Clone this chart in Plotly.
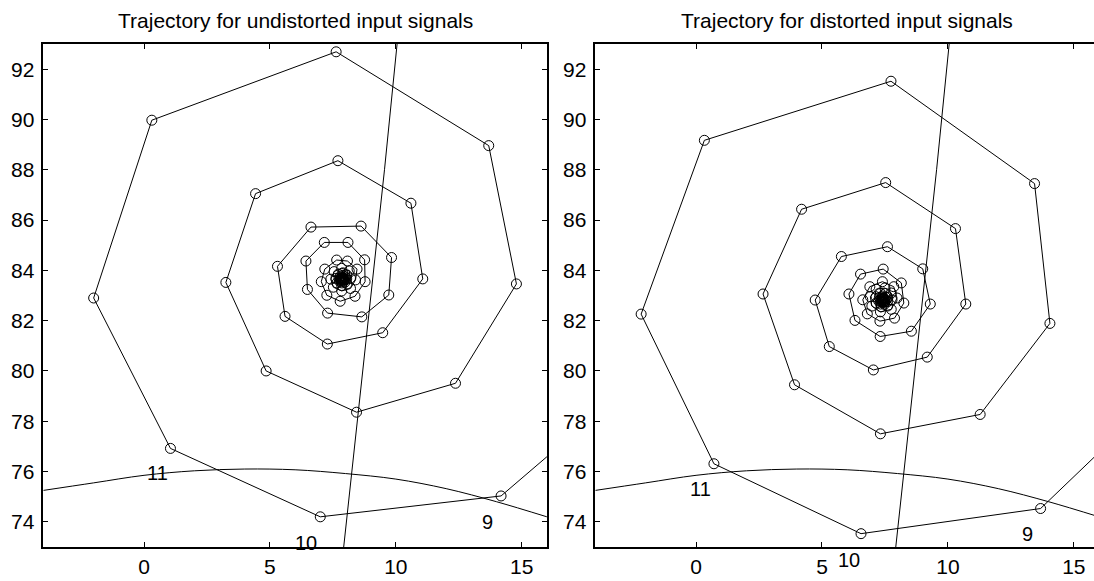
import plotly.graph_objects as go

# ---- trajectory, undistorted input signals ----
traj_u_x = [17.6, 14.18, 7.0, 1.05, -2.0, 0.31, 7.63, 13.69, 14.79, 12.37, 8.44, 4.85, 3.25,
            4.43, 7.70, 10.60, 11.07, 9.48, 7.28, 5.60, 5.30, 6.63, 8.62, 9.83, 9.72, 8.65,
            7.29, 6.49, 6.43, 7.16, 8.10, 8.76, 8.78, 8.38, 7.79, 7.26, 7.04, 7.18, 7.65,
            8.08, 8.46, 8.40, 8.20, 7.85, 7.52, 7.42, 7.55, 7.85, 8.15, 8.20, 8.06, 7.85,
            7.66, 7.62, 7.72, 7.90, 8.05, 8.05, 7.98, 7.86, 7.76, 7.74, 7.80, 7.90, 7.98,
            7.98, 7.93, 7.86, 7.81, 7.80, 7.84, 7.89, 7.93, 7.92, 7.88, 7.85, 7.86, 7.89]
traj_u_y = [77.96, 75.03, 74.2, 76.92, 82.9, 89.97, 92.69, 88.96, 83.46, 79.51, 78.36, 80.0, 83.52,
            87.05, 88.36, 86.67, 83.66, 81.52, 81.07, 82.17, 84.16, 85.72, 85.76, 84.51, 83.02, 82.15,
            82.30, 83.24, 84.37, 85.11, 85.11, 84.42, 83.55, 82.97, 82.77, 83.01, 83.55, 84.05, 84.41,
            84.37, 84.05, 83.62, 83.28, 83.18, 83.33, 83.65, 83.95, 84.08, 83.98, 83.70, 83.46, 83.40,
            83.50, 83.68, 83.85, 83.90, 83.82, 83.66, 83.53, 83.50, 83.57, 83.68, 83.77, 83.80, 83.74,
            83.65, 83.58, 83.57, 83.61, 83.67, 83.71, 83.72, 83.69, 83.64, 83.62, 83.64, 83.67, 83.67]

# ---- trajectory, distorted input signals ----
traj_d_x = [17.4, 13.68, 6.55, 0.71, -2.18, 0.33, 7.74, 13.44, 14.05, 11.28, 7.32, 3.91, 2.66,
            4.19, 7.53, 10.30, 10.71, 9.18, 7.04, 5.29, 4.73, 5.77, 7.60, 9.00, 9.30, 8.55,
            7.31, 6.31, 6.07, 6.53, 7.43, 8.15, 8.25, 7.88, 7.30, 6.80, 6.62, 6.90, 7.40,
            7.85, 7.98, 7.75, 7.32, 6.98, 6.92, 7.15, 7.50, 7.75, 7.78, 7.60, 7.35, 7.15,
            7.15, 7.32, 7.52, 7.62, 7.60, 7.48, 7.33, 7.25, 7.28, 7.40, 7.52, 7.54, 7.50,
            7.41, 7.34, 7.34, 7.40, 7.47, 7.49, 7.45, 7.40, 7.38, 7.41, 7.44]
traj_d_y = [78.1, 74.53, 73.53, 76.31, 82.26, 89.17, 91.52, 87.45, 81.89, 78.27, 77.50, 79.45, 83.06,
            86.43, 87.49, 85.66, 82.66, 80.55, 80.04, 80.97, 82.82, 84.55, 84.94, 84.06, 82.66, 81.58,
            81.37, 82.01, 83.06, 83.85, 84.05, 83.50, 82.70, 82.10, 81.98, 82.27, 82.83, 83.35, 83.55,
            83.35, 82.90, 82.45, 82.35, 82.58, 82.95, 83.25, 83.30, 83.10, 82.82, 82.58, 82.55, 82.70,
            82.95, 83.10, 83.08, 82.92, 82.75, 82.65, 82.66, 82.78, 82.92, 82.98, 82.93, 82.82, 82.74,
            82.72, 82.76, 82.84, 82.89, 82.87, 82.81, 82.77, 82.78, 82.82, 82.85, 82.83]

# ---- contour lines of the cost surface (same in both panels) ----
level10_x = [7.93, 8.47, 9.03, 9.55, 10.05]
level10_y = [73.0, 78.0, 83.0, 88.0, 93.0]
level11_x = [-4, -2, 0, 2, 4, 6, 8, 10, 12, 14, 16]
level11_y = [75.25, 75.55, 75.85, 76.03, 76.10, 76.07, 75.92, 75.70, 75.32, 74.80, 74.20]

# contour level labels: (text, x, y) per panel
labels_u = [("11", 0.52, 75.93), ("10", 6.44, 73.14), ("9", 13.65, 74.0)]
labels_d = [("11", 0.18, 75.29), ("10", 6.06, 72.48), ("9", 13.16, 73.5)]

titles = ["Trajectory for undistorted input signals", "Trajectory for distorted input signals"]
x_ticks = [0, 5, 10, 15]
y_ticks = [74, 76, 78, 80, 82, 84, 86, 88, 90, 92]
X_RANGE = [-4, 16]
Y_RANGE = [73, 93]

W, H = 1094, 581
FONT = "Liberation Sans, Arial, Helvetica, sans-serif"

fig = go.Figure()

panels = [
    ("x", "y", traj_u_x, traj_u_y, labels_u),
    ("x2", "y2", traj_d_x, traj_d_y, labels_d),
]
for xa, ya, tx, ty, labs in panels:
    fig.add_trace(go.Scatter(x=level11_x, y=level11_y, mode="lines", xaxis=xa, yaxis=ya,
                             line=dict(color="black", width=1), line_shape="spline",
                             hoverinfo="skip", showlegend=False))
    fig.add_trace(go.Scatter(x=level10_x, y=level10_y, mode="lines", xaxis=xa, yaxis=ya,
                             line=dict(color="black", width=1),
                             hoverinfo="skip", showlegend=False))
    fig.add_trace(go.Scatter(x=tx, y=ty, mode="lines+markers", xaxis=xa, yaxis=ya,
                             line=dict(color="black", width=1),
                             marker=dict(symbol="circle-open", size=10, color="black",
                                         line=dict(width=1, color="black")),
                             showlegend=False))
    for txt, lx, ly in labs:
        # labels sitting below the axis are placed in paper space so they still show
        if ly < Y_RANGE[0]:
            yref, yv = "paper", (ly - Y_RANGE[0]) / (Y_RANGE[1] - Y_RANGE[0])
        else:
            yref, yv = ya, ly
        fig.add_annotation(x=lx, y=yv, xref=xa, yref=yref, text=txt, showarrow=False,
                           xanchor="center", yanchor="middle",
                           font=dict(family=FONT, size=20, color="black"))

axis_common = dict(showline=True, linecolor="black", linewidth=1.5, ticks="inside",
                   ticklen=5, tickwidth=1, tickcolor="black", showgrid=False, zeroline=False,
                   tickfont=dict(family=FONT, size=21, color="black"))

left_px = (43.3, 546.9)
right_px = (595.3, 1094.0)

fig.update_layout(
    width=W, height=H,
    margin=dict(l=0, r=0, t=44, b=34),
    paper_bgcolor="white", plot_bgcolor="white",
    xaxis=dict(domain=[left_px[0] / W, left_px[1] / W], range=X_RANGE, tickvals=x_ticks,
               mirror="ticks", anchor="y", **axis_common),
    yaxis=dict(domain=[0, 1], range=Y_RANGE, tickvals=y_ticks, mirror="ticks",
               anchor="x", ticklabelstandoff=3, **axis_common),
    xaxis2=dict(domain=[right_px[0] / W, right_px[1] / W], range=[-4, 15.8], tickvals=x_ticks,
                mirror="ticks", anchor="y2", **axis_common),
    yaxis2=dict(domain=[0, 1], range=Y_RANGE, tickvals=y_ticks, mirror=False,
                anchor="x2", ticklabelstandoff=3, **axis_common),
)

centers = [(left_px[0] + left_px[1]) / 2, (right_px[0] + 1099.0) / 2]
for t, cx in zip(titles, centers):
    fig.add_annotation(x=cx / W, y=1.0 + (44 - 21) / (H - 44 - 34), xref="paper", yref="paper",
                       text=t, showarrow=False, xanchor="center", yanchor="middle",
                       font=dict(family=FONT, size=21, color="black"))

fig.write_html("out.html")
